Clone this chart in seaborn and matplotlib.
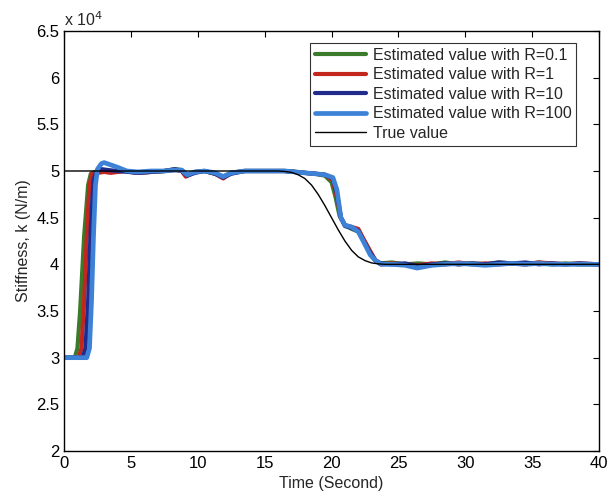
import numpy as np
import pandas as pd
import matplotlib
matplotlib.use("Agg")
import matplotlib.pyplot as plt
import seaborn as sns
from matplotlib.ticker import FuncFormatter, MultipleLocator

# ---- data (stiffness in units of 1e4 N/m) ----
t_g = [0, 0.8, 1.0, 1.2, 1.5, 1.8, 2.0, 2.3, 2.8, 3.5, 4.5, 5.5, 6.5, 7.5, 8.3, 8.8, 9.2, 9.8,
       10.5, 11.3, 11.9, 12.5, 13.5, 14.5, 15.5, 16.5, 17.3, 18.0, 18.8, 19.5, 20.0, 20.3, 20.6,
       21.0, 21.5, 22.0, 22.4, 22.8, 23.2, 23.6, 24.5, 25.5, 26.5, 27.5, 28.5, 29.5, 30.5, 31.5,
       32.5, 33.5, 34.5, 35.5, 36.5, 37.5, 38.5, 40]
k_g = [3.0, 3.0, 3.1, 3.5, 4.3, 4.85, 4.97, 4.99, 5.0, 4.99, 5.0, 4.98, 4.99, 5.0, 5.02, 5.01,
       4.96, 4.99, 5.0, 4.97, 4.94, 4.98, 5.0, 5.0, 5.0, 5.0, 4.99, 4.98, 4.97, 4.95, 4.88, 4.72,
       4.52, 4.42, 4.38, 4.35, 4.26, 4.15, 4.05, 4.01, 4.02, 4.0, 4.01, 4.0, 4.02, 4.0, 4.01, 4.0,
       4.02, 4.01, 4.0, 4.02, 4.0, 4.01, 4.0, 4.0]

t_r = [0, 1.1, 1.3, 1.5, 1.7, 1.9, 2.1, 2.5, 3.0, 3.5, 4.5, 5.5, 6.5, 7.5, 8.3, 8.8, 9.1, 9.8,
       10.5, 11.3, 11.9, 12.5, 13.5, 14.5, 15.5, 16.5, 17.3, 18.0, 18.8, 19.5, 20.1, 20.4, 20.7,
       21.0, 21.5, 22.0, 22.4, 22.9, 23.3, 23.7, 24.5, 25.5, 26.5, 27.5, 28.5, 29.5, 30.5, 31.5,
       32.5, 33.5, 34.5, 35.5, 36.5, 37.5, 38.5, 40]
k_r = [3.0, 3.0, 3.1, 3.6, 4.3, 4.85, 4.97, 4.98, 4.99, 4.98, 5.0, 4.98, 4.99, 5.0, 5.01, 5.0,
       4.94, 4.99, 5.0, 4.97, 4.92, 4.98, 5.0, 5.0, 5.0, 5.0, 4.99, 4.98, 4.97, 4.96, 4.9, 4.72,
       4.5, 4.42, 4.4, 4.38, 4.27, 4.14, 4.04, 4.0, 4.01, 4.0, 3.99, 4.01, 4.0, 4.02, 4.0, 4.01,
       4.0, 4.01, 4.0, 4.02, 4.01, 4.0, 4.01, 4.0]

t_db = [0, 1.4, 1.6, 1.8, 2.0, 2.2, 2.4, 2.8, 3.3, 4.0, 4.8, 5.5, 6.5, 7.5, 8.3, 8.8, 9.2, 9.8,
        10.5, 11.3, 11.9, 12.5, 13.5, 14.5, 15.5, 16.5, 17.3, 18.0, 18.8, 19.5, 20.1, 20.4, 20.7,
        21.0, 21.5, 22.0, 22.4, 22.9, 23.3, 23.7, 24.5, 25.5, 26.5, 27.5, 28.5, 29.5, 30.5, 31.5,
        32.5, 33.5, 34.5, 35.5, 36.5, 37.5, 38.5, 40]
k_db = [3.0, 3.0, 3.1, 3.6, 4.4, 4.9, 4.98, 5.02, 5.01, 5.0, 4.99, 4.98, 4.99, 5.0, 5.02, 5.0,
        4.95, 4.98, 5.0, 4.97, 4.93, 4.97, 5.0, 5.0, 5.0, 5.0, 4.99, 4.98, 4.97, 4.96, 4.92, 4.76,
        4.5, 4.41, 4.39, 4.36, 4.25, 4.12, 4.04, 4.01, 4.0, 4.01, 3.98, 4.0, 4.01, 4.0, 4.01, 4.0,
        4.02, 4.01, 4.02, 4.0, 4.01, 4.0, 4.01, 4.0]

t_lb = [0, 1.7, 1.9, 2.05, 2.2, 2.35, 2.5, 2.8, 3.0, 3.4, 4.0, 4.7, 5.5, 6.5, 7.5, 8.3, 8.8,
        9.2, 9.8, 10.5, 11.3, 11.9, 12.5, 13.5, 14.5, 15.5, 16.5, 17.3, 18.0, 18.8, 19.5, 20.1,
        20.4, 20.7, 21.0, 21.5, 22.0, 22.4, 22.9, 23.3, 23.7, 24.5, 25.5, 26.4, 27.5, 28.5, 29.5,
        30.5, 31.5, 32.5, 33.5, 34.5, 35.5, 36.5, 37.5, 38.5, 40]
k_lb = [3.0, 3.0, 3.1, 3.6, 4.3, 4.85, 5.02, 5.08, 5.09, 5.07, 5.04, 5.0, 4.99, 5.0, 5.0, 5.01,
        5.01, 4.96, 4.99, 5.0, 4.98, 4.94, 4.98, 5.0, 5.0, 5.0, 5.0, 4.99, 4.98, 4.97, 4.96, 4.93,
        4.8, 4.5, 4.42, 4.4, 4.35, 4.24, 4.1, 4.04, 4.0, 4.0, 3.99, 3.96, 3.99, 4.0, 4.01, 4.0,
        3.99, 4.0, 4.01, 4.0, 4.01, 4.0, 4.0, 4.0, 4.0]

t_true = [0, 16, 16.5, 17, 17.5, 18, 18.5, 19, 19.5, 20, 20.5, 21, 21.5, 22, 22.5, 23, 23.5, 24, 40]
k_true = [5.0, 5.0, 4.995, 4.985, 4.96, 4.92, 4.85, 4.75, 4.63, 4.5, 4.37, 4.25, 4.15, 4.08,
          4.04, 4.015, 4.005, 4.0, 4.0]

labels = ["Estimated value with R=0.1", "Estimated value with R=1",
          "Estimated value with R=10", "Estimated value with R=100", "True value"]
colors = ["#3b7a2a", "#c3261c", "#202b8c", "#3d82d6", "black"]
widths = [3.0, 3.0, 3.0, 3.4, 1.0]

series = [(t_g, k_g), (t_r, k_r), (t_db, k_db), (t_lb, k_lb), (t_true, k_true)]
frames = []
for lab, (tt, kk) in zip(labels, series):
    frames.append(pd.DataFrame({"t": tt, "k": np.array(kk) * 1e4, "series": lab}))
df = pd.concat(frames, ignore_index=True)

sns.set_style("white")
plt.rcParams["font.family"] = ["Liberation Sans", "DejaVu Sans"]

fig = plt.figure(figsize=(6.1, 5.0), dpi=100)
ax = fig.add_axes([0.105, 0.098, 0.877, 0.84])

for lab, c, w in zip(labels, colors, widths):
    sub = df[df["series"] == lab]
    sns.lineplot(data=sub, x="t", y="k", ax=ax, color=c, linewidth=w, label=lab,
                 estimator=None, sort=False)

ax.set_xlim(0, 40)
ax.set_ylim(2e4, 6.5e4)
ax.xaxis.set_major_locator(MultipleLocator(5))
ax.yaxis.set_major_locator(MultipleLocator(0.5e4))
ax.yaxis.set_major_formatter(FuncFormatter(lambda v, p: f"{v/1e4:g}"))
ax.tick_params(direction="in", length=4, width=0.8, top=True, right=True,
               labelsize=12, colors="black")
for s in ax.spines.values():
    s.set_color("black")
    s.set_linewidth(1.0)
ax.set_xlabel("Time (Second)", fontsize=11.5)
ax.set_ylabel("Stiffness, k (N/m)", fontsize=11.5)
ax.text(0.0, 1.005, "x 10$^4$", transform=ax.transAxes, fontsize=11.5, va="bottom", ha="left")

leg = ax.legend(loc="upper right", fontsize=11.5, frameon=True, fancybox=False,
                edgecolor="black", borderpad=0.3, labelspacing=0.28, handlelength=3.2,
                handletextpad=0.4, bbox_to_anchor=(0.972, 0.99))
leg.get_frame().set_linewidth(0.8)

fig.savefig("out.png", dpi=100)
